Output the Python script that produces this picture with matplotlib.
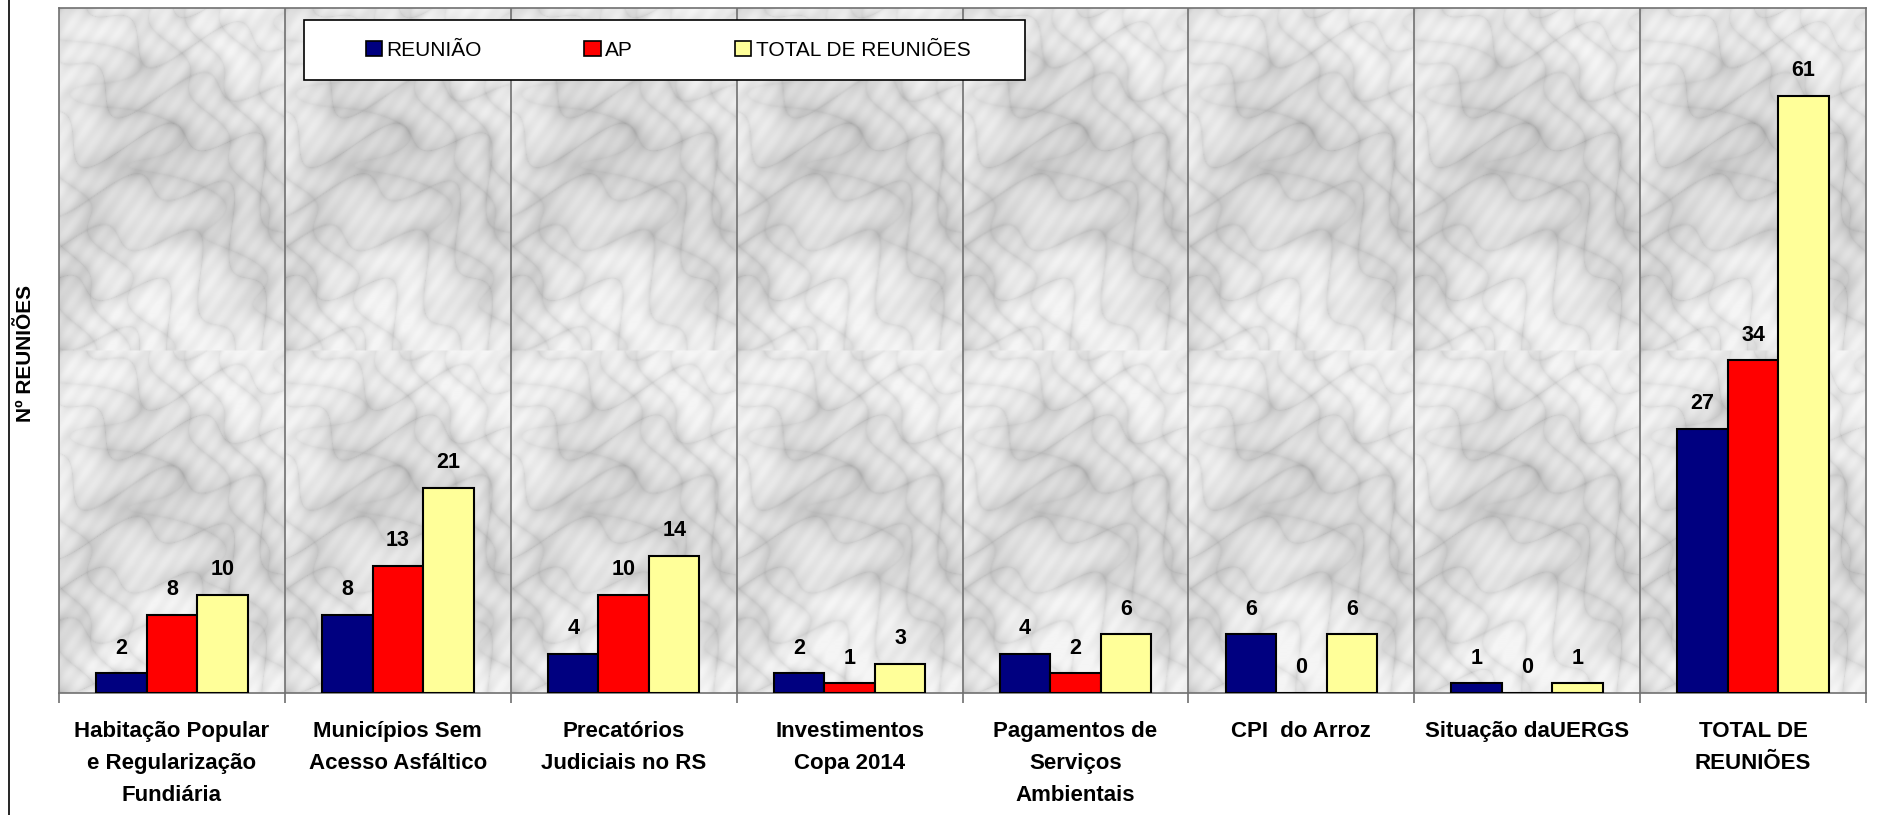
import numpy as np
import matplotlib
matplotlib.use("Agg")
import matplotlib.pyplot as plt
from matplotlib.patches import Patch, Rectangle
from matplotlib.lines import Line2D

plt.rcParams['font.family'] = ['Liberation Sans', 'DejaVu Sans']

# data
categorias = ["Habitação Popular\ne Regularização\nFundiária",
              "Municípios Sem\nAcesso Asfáltico",
              "Precatórios\nJudiciais no RS",
              "Investimentos\nCopa 2014",
              "Pagamentos de\nServiços\nAmbientais",
              "CPI  do Arroz",
              "Situação daUERGS",
              "TOTAL DE\nREUNIÕES"]
reuniao = [2, 8, 4, 2, 4, 6, 1, 27]
ap = [8, 13, 10, 1, 2, 0, 0, 34]
total = [10, 21, 14, 3, 6, 6, 1, 61]
series_names = ["REUNIÃO", "AP", "TOTAL DE REUNIÕES"]
series_colors = ["#000080", "#FF0000", "#FFFF99"]

W, H = 1888, 815
fig = plt.figure(figsize=(W / 100, H / 100), dpi=100)
fig.patch.set_facecolor("white")
ax = fig.add_axes([59 / W, 1 - 693 / H, (1866 - 59) / W, (693 - 8) / H])

n = len(categorias)
ymax = 70

# marble-like background (deterministic pattern, one tile per category)
ty, tx = np.mgrid[0:340, 0:226].astype(float)
ph1 = 0.03 * tx - 0.045 * ty + 2.6 * np.sin(0.018 * tx + 0.011 * ty) + 1.1 * np.sin(0.06 * tx + 0.04 * ty)
ph2 = 0.05 * tx - 0.03 * ty + 1.8 * np.sin(0.013 * ty - 0.025 * tx) + 0.7 * np.sin(0.09 * ty)
ph3 = 0.012 * tx + 0.017 * ty + 1.5 * np.sin(0.02 * tx)
v1 = np.abs(np.sin(ph1)) ** 0.3
v2 = np.abs(np.sin(ph2)) ** 0.45
tile = 0.68 + 0.13 * v1 + 0.1 * v2 + 0.05 * np.sin(ph3) + 0.015 * np.sin(0.35 * tx + 0.25 * ty)
tile = np.clip(tile, 0, 0.96)
bg = np.vstack([tile, np.clip(tile * 1.015, 0, 0.96)])
bg = np.tile(bg, (1, n))
ax.imshow(bg, cmap="gray", vmin=0, vmax=1, extent=(-0.5, n - 0.5, 0, ymax),
          aspect="auto", interpolation="bilinear", zorder=0)

x = np.arange(n)
w = 0.2235
for k, (vals, col) in enumerate(zip([reuniao, ap, total], series_colors)):
    xs = x + (k - 1) * w
    ax.bar(xs, vals, width=w, color=col, edgecolor="black", linewidth=1.5, zorder=3)
    for xi, v in zip(xs, vals):
        ax.text(xi, v + 1.5, str(v), ha="center", va="bottom", fontsize=15.5,
                fontweight="bold", color="black", zorder=4)

# category separators
for b in np.arange(0.5, n - 0.5, 1):
    ax.axvline(b, color="#707070", linewidth=1.2, zorder=2)

ax.set_xlim(-0.5, n - 0.5)
ax.set_ylim(0, ymax)
ax.set_yticks([])
ax.set_xticks(np.arange(-0.5, n, 1))
ax.set_xticklabels([])
ax.tick_params(axis="x", which="major", length=7, width=1.2, color="#707070", direction="out")
ax.set_xticks(x, minor=True)
ax.set_xticklabels(categorias, minor=True, fontsize=16, fontweight="bold", linespacing=1.7)
ax.tick_params(axis="x", which="minor", length=0, pad=20)
for s in ax.spines.values():
    s.set_color("#707070")
    s.set_linewidth(1.2)

# legend with plain rectangular frame
fig.patches.append(Rectangle((304 / W, 1 - 80 / H), (1025 - 304) / W, 60 / H,
                             transform=fig.transFigure, facecolor="white",
                             edgecolor="black", linewidth=1.2, zorder=5))
handles = [Patch(facecolor=c, edgecolor="black", linewidth=1.2) for c in series_colors]
leg = fig.legend(handles, series_names, loc="center", bbox_to_anchor=(668 / W, 1 - 50 / H),
                 ncol=3, frameon=False, fontsize=15, handlelength=0.8, handleheight=0.75,
                 handletextpad=0.2, columnspacing=4.9)
leg.set_zorder(6)

fig.text(26 / W, 1 - 353 / H, "Nº REUNIÕES", rotation=90, ha="center", va="center",
         fontsize=15, fontweight="bold", family=["Liberation Sans Narrow", "Liberation Sans", "DejaVu Sans"])

fig.add_artist(Line2D([9 / W, 9 / W], [0, 1], transform=fig.transFigure, color="black", linewidth=1.2))

fig.savefig("out.png", dpi=100)
